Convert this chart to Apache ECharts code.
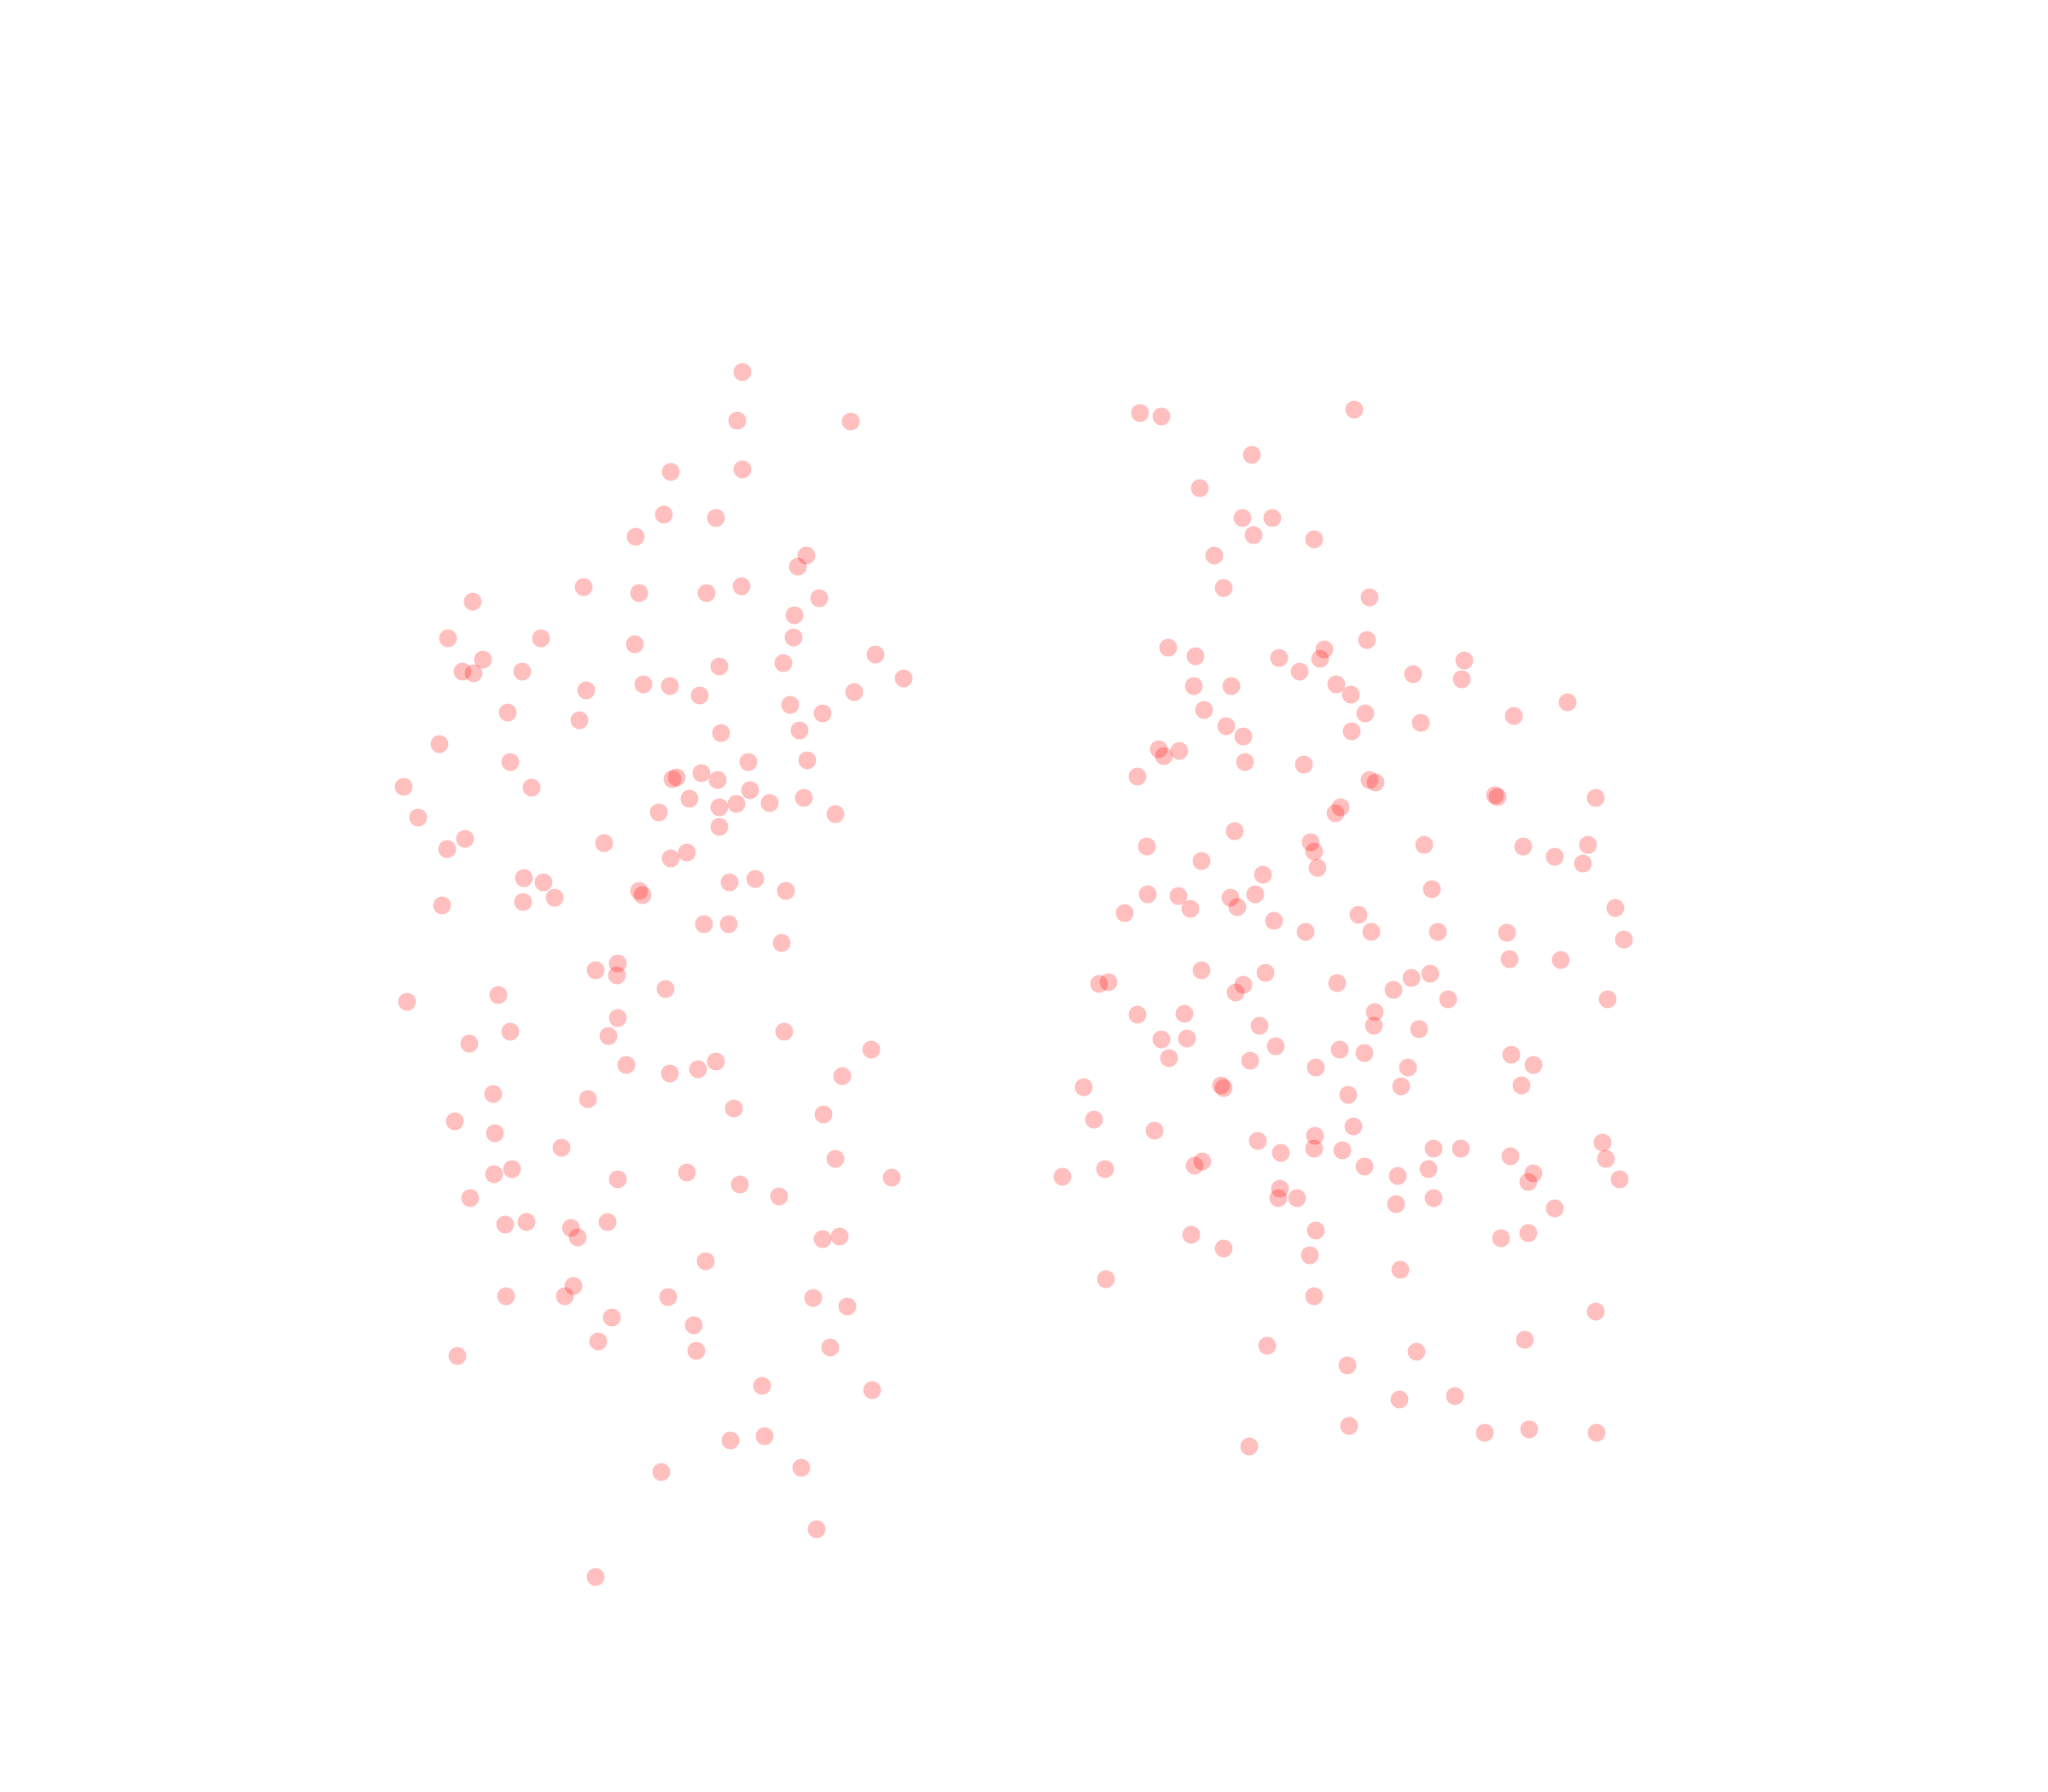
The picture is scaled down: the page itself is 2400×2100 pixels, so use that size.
<!DOCTYPE html>
<html>
<head>
<meta charset="utf-8">
<script src="https://cdn.jsdelivr.net/npm/echarts@6/dist/echarts.min.js"></script>
<style>
html,body{margin:0;padding:0;background:#fff;}
#chart{width:2400px;height:2100px;}
</style>
</head>
<body>
<div id="chart"></div>
<script>
// Values (x, y) in plot units
const groupA = [
[745,629],[684,688],[749,695],[554,705],[525,748],[634,748],[744,755],[566,773],[542,787],[555,789],[612,787],[754,802],[687,809],[595,835],[679,844],[515,872],[598,893],
[870,436],[864,493],[997,494],[786,553],[870,550],[778,603],[839,607],[945,651],[935,664],[828,695],[869,687],[960,701],[931,721],[930,747],[1026,767],[843,781],[918,777],[1059,795],[785,804],[820,815],[1001,811],[926,826],[964,836],[845,859],[937,856],[877,893],[946,891],
[473,922],[623,923],[490,958],[545,983],[524,995],[708,988],[614,1029],[637,1034],[650,1052],[613,1057],[518,1061],[749,1044],[753,1049],[698,1137],[724,1129],[723,1143],[477,1174],[584,1166],[598,1209],[550,1223],[724,1193],[713,1214],[734,1248],[578,1282],[689,1288],[533,1314],[580,1328],[658,1345],[579,1376],[600,1370],[724,1382],
[788,913],[793,911],[822,906],[841,914],[808,936],[879,926],[772,952],[843,946],[863,942],[902,941],[942,935],[979,954],[843,969],[786,1006],[805,999],[855,1034],[885,1030],[921,1044],[825,1083],[854,1083],[916,1105],[780,1159],[919,1209],[1021,1230],[785,1258],[818,1253],[839,1244],[987,1261],[860,1299],[965,1306],[979,1358],[805,1374],[867,1388],[1045,1380],
[551,1404],[592,1435],[617,1432],[669,1439],[677,1450],[712,1432],[593,1519],[672,1507],[662,1519],[717,1544],[701,1572],[536,1589],[698,1848],
[913,1402],[964,1452],[984,1449],[827,1478],[783,1520],[953,1521],[993,1531],[813,1553],[816,1583],[973,1579],[893,1624],[1022,1629],[856,1688],[896,1683],[939,1720],[775,1725],[957,1792]
];
const groupB = [
[1336,484],[1361,488],[1467,533],[1406,572],[1456,607],[1491,607],[1469,627],[1540,632],[1423,651],[1434,689],[1369,759],[1401,769],[1499,771],[1552,761],[1547,772],[1523,787],[1566,802],[1399,804],[1443,804],[1411,832],[1437,851],[1457,863],[1358,878],[1364,886],[1382,880],
[1587,480],[1605,700],[1602,750],[1656,790],[1716,774],[1713,796],[1583,814],[1600,836],[1584,857],[1665,847],[1774,839],[1837,823],
[1459,893],[1528,896],[1333,910],[1565,953],[1571,946],[1447,974],[1344,992],[1408,1009],[1536,987],[1540,998],[1544,1017],[1480,1025],[1345,1048],[1381,1050],[1395,1065],[1442,1052],[1450,1063],[1471,1048],[1318,1070],[1493,1079],[1530,1092],[1408,1137],[1288,1153],[1299,1151],[1457,1154],[1448,1163],[1483,1140],[1567,1152],[1333,1189],[1388,1188],[1361,1218],[1391,1217],[1370,1240],[1476,1202],[1495,1226],[1465,1243],[1570,1230],[1542,1251],[1270,1274],[1431,1272],[1434,1275],
[1605,914],[1612,917],[1752,932],[1755,934],[1870,935],[1669,990],[1785,992],[1822,1004],[1861,990],[1855,1012],[1678,1042],[1592,1072],[1607,1092],[1685,1092],[1766,1093],[1893,1064],[1903,1101],[1769,1124],[1829,1125],[1654,1146],[1676,1141],[1633,1160],[1697,1171],[1611,1186],[1610,1202],[1663,1206],[1884,1171],[1599,1234],[1650,1251],[1642,1273],[1580,1283],[1771,1236],[1797,1248],[1783,1272],
[1282,1312],[1353,1325],[1474,1337],[1501,1351],[1541,1331],[1540,1346],[1573,1348],[1245,1379],[1295,1370],[1400,1366],[1409,1361],[1500,1393],[1498,1404],[1520,1404],[1396,1447],[1434,1463],[1542,1442],[1535,1471],[1296,1499],[1540,1519],[1485,1577],[1464,1695],
[1586,1320],[1680,1346],[1712,1346],[1599,1367],[1638,1378],[1674,1370],[1636,1411],[1680,1404],[1770,1355],[1797,1375],[1791,1385],[1822,1416],[1759,1451],[1791,1445],[1878,1339],[1882,1358],[1898,1382],[1641,1488],[1870,1537],[1787,1570],[1660,1584],[1579,1600],[1640,1640],[1705,1636],[1581,1671],[1740,1679],[1792,1675],[1871,1679]
];
const xRange = [0, 2400];
const yRange = [0, 2100];

const chart = echarts.init(document.getElementById('chart'), null, {renderer: 'canvas'});
const pointStyle = {color: '#ff0000', opacity: 0.25};
chart.setOption({
  animation: false,
  backgroundColor: '#ffffff',
  grid: {left: 0, right: 0, top: 0, bottom: 0},
  xAxis: {type: 'value', min: xRange[0], max: xRange[1], show: false},
  yAxis: {type: 'value', min: yRange[0], max: yRange[1], inverse: true, show: false},
  series: [
    {type: 'scatter', name: 'A', data: groupA, symbolSize: 21, itemStyle: pointStyle},
    {type: 'scatter', name: 'B', data: groupB, symbolSize: 21, itemStyle: pointStyle}
  ]
});
</script>
</body>
</html>
